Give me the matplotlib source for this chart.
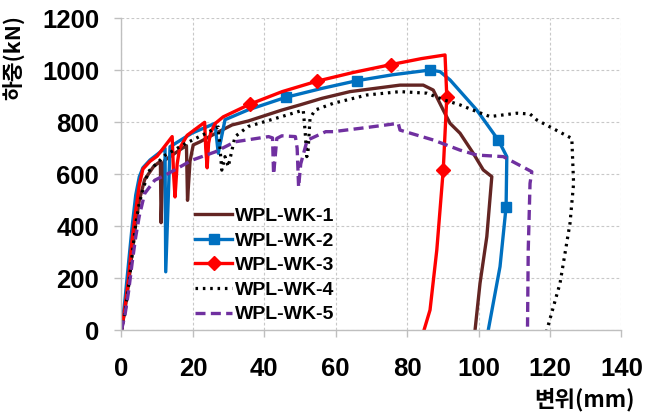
import matplotlib
matplotlib.use("Agg")
import matplotlib.pyplot as plt

# WPL-WK-1 (brown)
x1 = [0, 1, 2, 3, 4, 5, 6.5, 9, 10.9, 11.1, 11.6, 12.2, 17.0, 18.2, 18.5, 19.2, 20.1,
      22, 26, 31, 35.5, 44.9, 50.0, 56.1, 64.0, 78.0, 84.5, 87.3, 90.1, 92.0, 94.8,
      98.5, 101.3, 103.7, 102.3, 100.4, 99.0]
y1 = [0, 80, 180, 300, 410, 500, 580, 630, 650, 414, 640, 655, 700, 710, 500, 650, 713,
      725, 755, 790, 805, 847, 867, 892, 918, 943, 943, 924, 847, 796, 758,
      681, 617, 591, 360, 181, 0]

# WPL-WK-2 (blue, squares)
x2 = [0, 1, 2, 3, 4, 5, 6, 8, 12.2, 12.4, 13.6, 19.7, 26.2, 27.1, 29.0, 35.5, 46.0,
      56, 65.9, 76, 86.4, 89.2, 92.0, 99.5, 105.5, 107.9, 107.7, 106.0, 104.1, 102.7]
y2 = [0, 120, 260, 400, 520, 590, 625, 655, 700, 225, 706, 758, 796, 681, 810, 848, 896,
      930, 960, 983, 1001, 995, 963, 847, 732, 668, 475, 245, 104, 0]
m2 = [16, 18, 20, 24, 26]

# WPL-WK-3 (red, diamonds)
x3 = [0, 1, 2, 3, 4, 5, 6, 8, 10, 14.2, 14.6, 15.0, 15.6, 16.3, 18.4, 23.3, 23.6, 24.0,
      24.4, 25, 26.2, 28.5, 36.0, 45, 54.7, 65, 75.5, 84, 90.6, 91.1, 90.1, 88.3, 86.4, 84.7]
y3 = [0, 90, 200, 350, 460, 560, 620, 650, 670, 745, 600, 513, 640, 700, 750, 800, 700, 625,
      720, 760, 795, 821, 870, 918, 958, 992, 1022, 1045, 1059, 898, 617, 309, 78, 0]
m3 = [22, 24, 26, 29, 30]

# WPL-WK-4 (black, dotted)
x4 = [0, 1, 2, 3, 4, 5, 7.5, 12.2, 17.9, 23.4, 26.2, 27.1, 28.1, 29.0, 29.9, 31.8, 35.5,
      44.9, 50.9, 51.4, 51.9, 52.2, 52.8, 54.2, 59.3, 68.7, 78.0, 85.5, 90.1, 94.8, 99.5,
      103.2, 110.7, 114.4, 116.3, 126.1, 126.6, 125.6, 122.8, 119.1]
y4 = [0, 70, 170, 290, 410, 490, 610, 673, 718, 756, 776, 782, 616, 668, 629, 745, 784,
      822, 847, 770, 668, 680, 815, 847, 873, 905, 918, 912, 887, 867, 841,
      822, 835, 832, 809, 738, 565, 412, 181, 0]

# WPL-WK-5 (purple, dashed)
x5 = [0, 1, 2, 3, 4, 5, 6.5, 9.3, 13.1, 19.7, 26.2, 31.8, 41.2, 42.3, 42.6, 43.0, 43.5,
      44.9, 48.7, 49.2, 49.6, 50.2, 52.0, 57.2, 59.3, 68.7, 77.5, 78.0, 87.3, 94.8, 99.5,
      106.9, 114.9, 114.4, 113.9, 113.7]
y5 = [0, 60, 150, 260, 360, 440, 526, 577, 603, 654, 686, 725, 745, 740, 600, 660, 738,
      748, 745, 700, 551, 640, 731, 764, 764, 780, 796, 770, 732, 693, 674,
      668, 610, 565, 309, 14]

xticks = list(range(0, 141, 20))
yticks = list(range(0, 1201, 200))

fig = plt.figure(figsize=(6.46, 4.16), dpi=100)
ax = fig.add_axes([0.188, 0.206, 0.774, 0.75])

ax.plot(x1, y1, color='#632523', lw=2.4, label='WPL-WK-1')
ax.plot(x2, y2, color='#0070C0', lw=2.4, marker='s', ms=7, markevery=m2, label='WPL-WK-2')
ax.plot(x3, y3, color='#FF0000', lw=2.4, marker='D', ms=7, markevery=m3, label='WPL-WK-3')
ax.plot(x4, y4, color='black', lw=2.3, ls=(0, (0.8, 1.5)), label='WPL-WK-4')
ax.plot(x5, y5, color='#7030A0', lw=2.4, ls=(0, (3, 1.6)), label='WPL-WK-5')

ax.set_xlim(0, 140)
ax.set_ylim(0, 1200)
ax.set_xticks(xticks)
ax.set_yticks(yticks)
ax.grid(True, color='#C8C8C8', ls=(0, (2.5, 2)), lw=0.8)
ax.set_axisbelow(True)
for s in ['top', 'right']:
    ax.spines[s].set_visible(False)
for s in ['left', 'bottom']:
    ax.spines[s].set_color('#BFBFBF')
    ax.spines[s].set_linewidth(1)
ax.tick_params(axis='both', color='#BFBFBF', length=5, width=1)
ax.tick_params(axis='x', pad=14)
ax.tick_params(axis='y', pad=11)
for lab in ax.get_xticklabels() + ax.get_yticklabels():
    lab.set_fontfamily('Liberation Sans')
    lab.set_fontweight('bold')
    lab.set_fontsize(18.5)

leg = ax.legend(loc='lower left', bbox_to_anchor=(0.148, 0.022), frameon=False,
                handlelength=1.9, handletextpad=0.15, labelspacing=0.36,
                borderaxespad=0, borderpad=0,
                prop={'family': 'Liberation Sans', 'weight': 'bold', 'size': 14})

fig.text(0.022, 0.862, '하중(kN)', rotation=90, ha='center', va='center',
         family=['Noto Sans CJK KR', 'DejaVu Sans'], weight='bold', fontsize=15.5)
fig.text(0.983, 0.04, '변위(mm)', ha='right', va='center',
         family=['Noto Sans CJK KR', 'DejaVu Sans'], weight='bold', fontsize=16)

fig.savefig('out.png', dpi=100)
